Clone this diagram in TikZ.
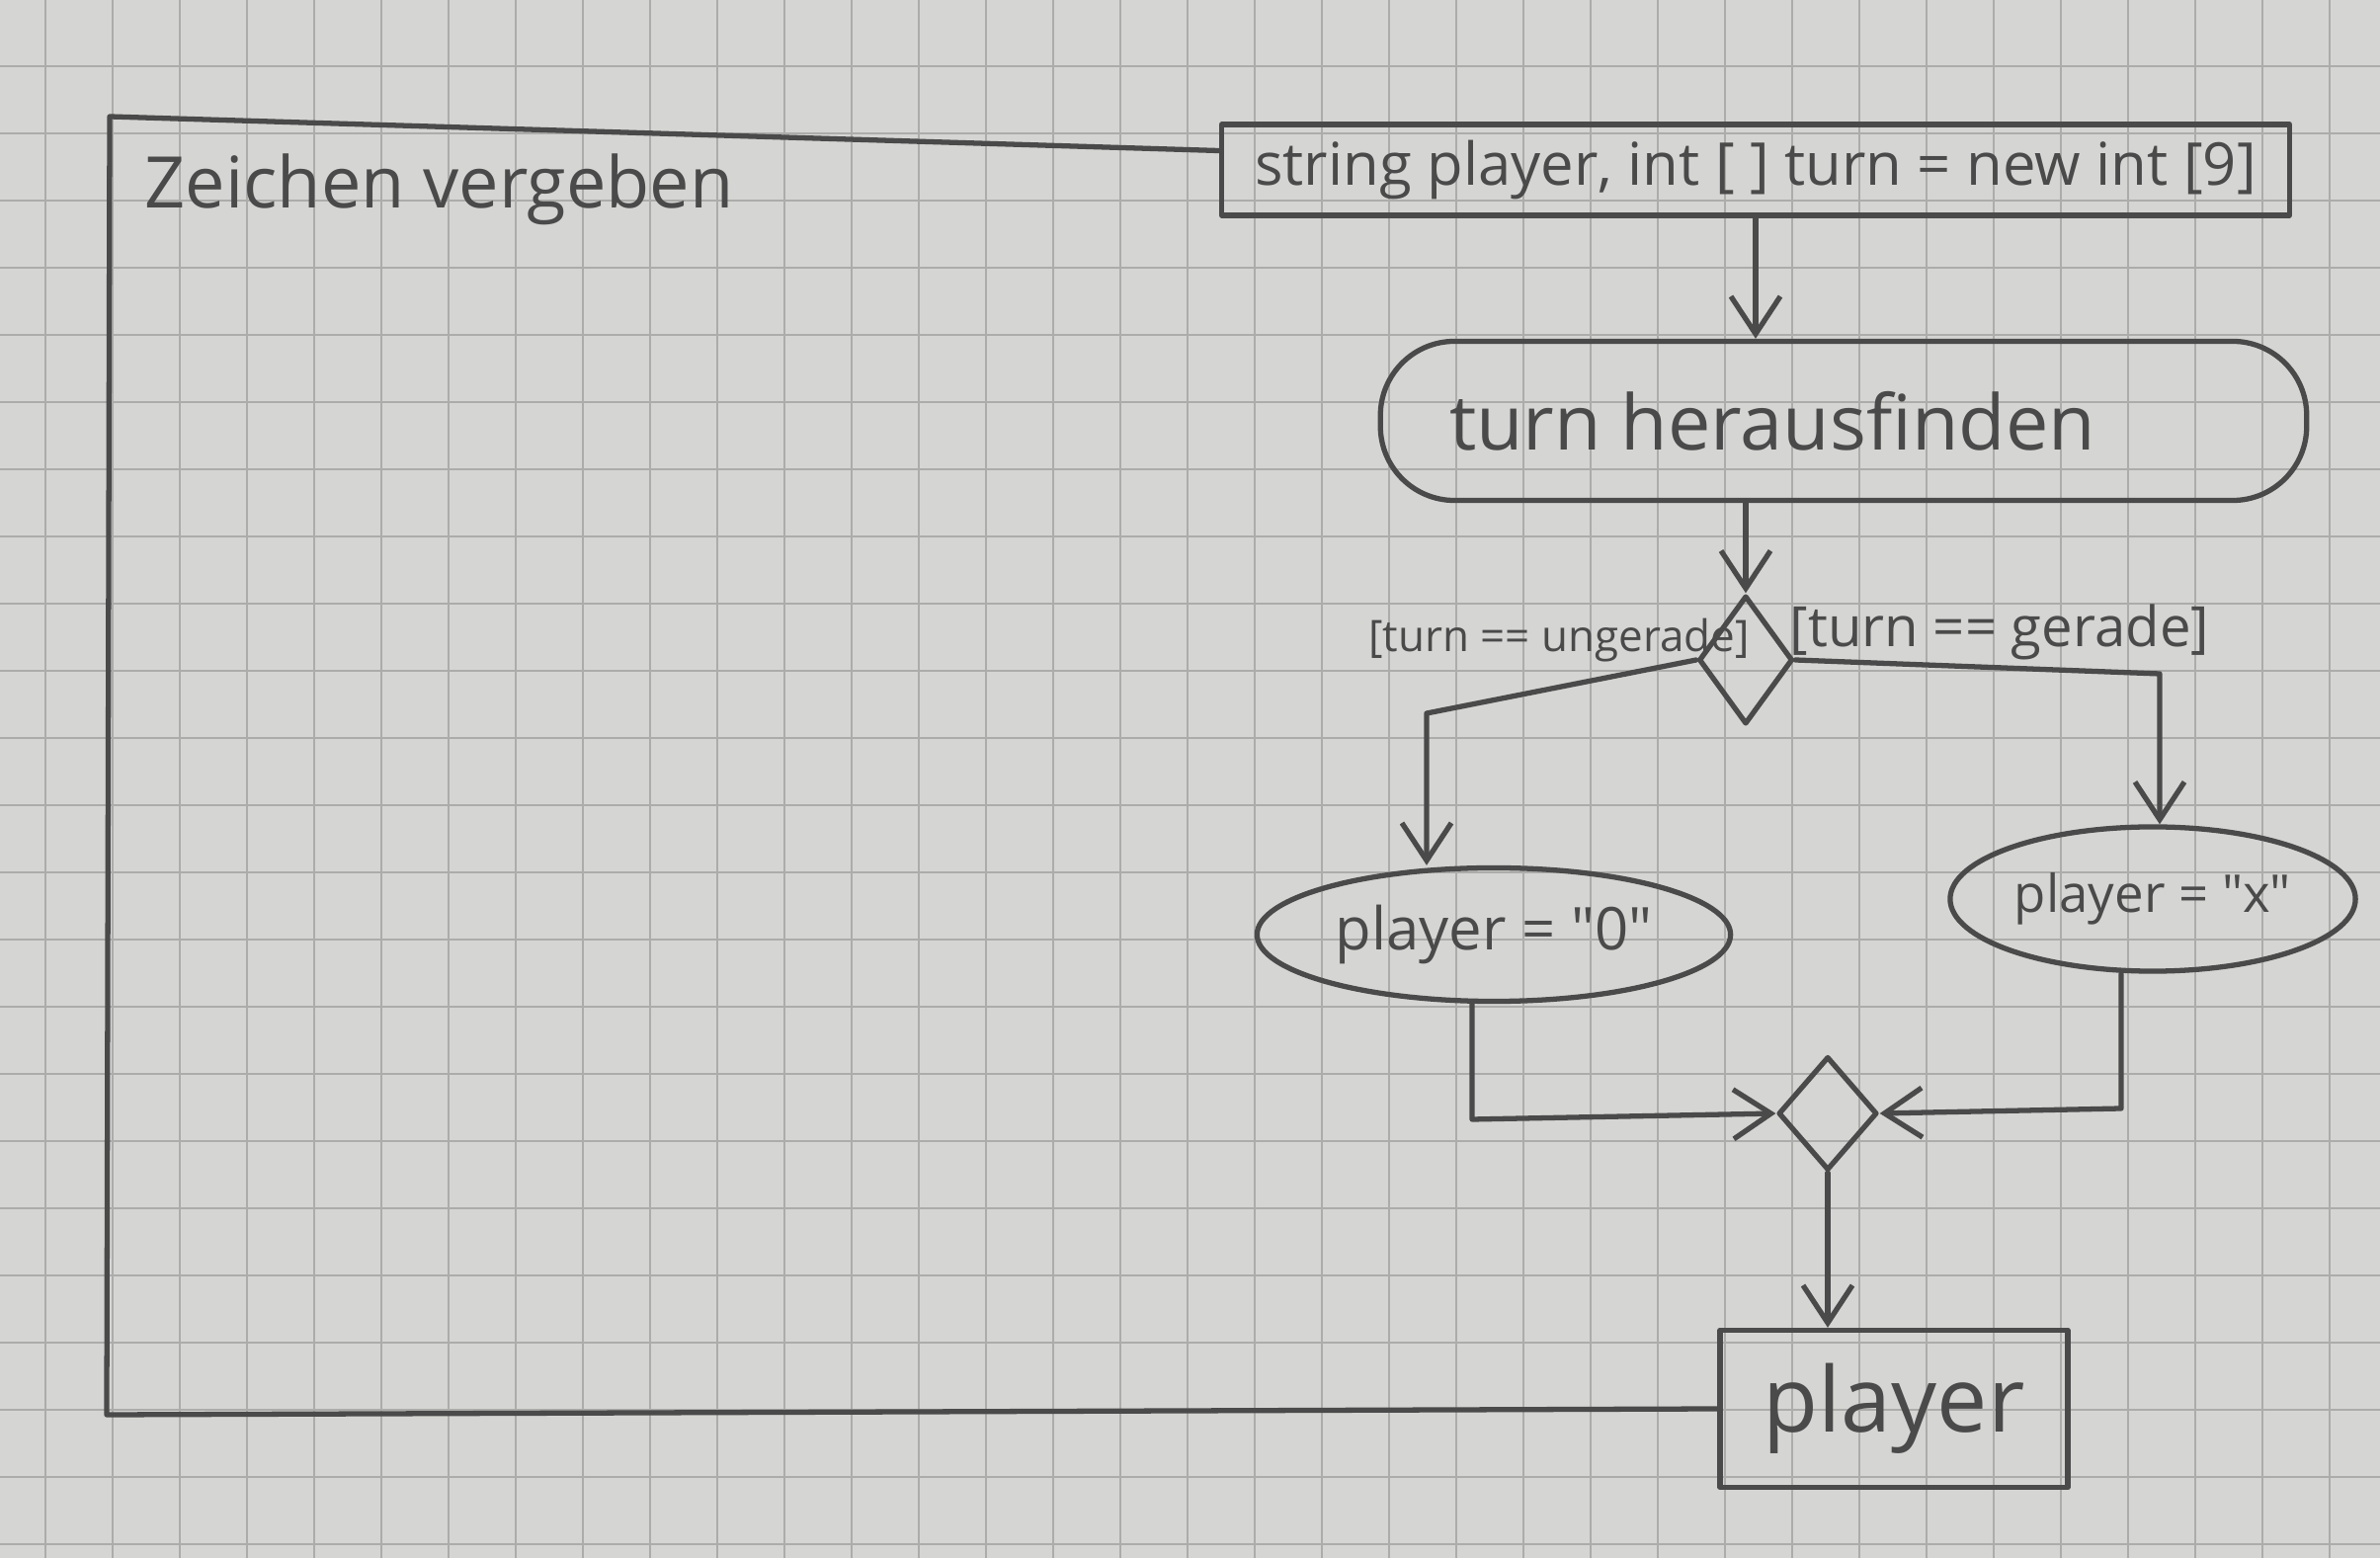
\documentclass[tikz,border=0pt]{standalone}
\usepackage{fontspec}
\setmainfont{Open Sans}
\usetikzlibrary{shapes.geometric,arrows.meta,calc}
\definecolor{paper}{RGB}{213,213,211}
\definecolor{gridc}{RGB}{172,172,170}
\definecolor{pencil}{RGB}{74,74,74}
\font\qfa="Open Sans" at 17pt
\font\qfb="Open Sans" at 15pt
\begin{document}
\begin{tikzpicture}[x=0.01cm,y=-0.01cm,
 pen/.style={draw=pencil, line width=1.5pt, line join=round, line cap=round},
 objbox/.style={pen, rectangle, inner sep=0pt, text=pencil},
 actbox/.style={pen, rectangle, rounded corners=0.75cm, inner sep=0pt, text=pencil},
 ellnode/.style={pen, ellipse, inner sep=0pt, text=pencil},
 gate/.style={pen, diamond, inner sep=0pt, minimum width=0.95cm, minimum height=1.3cm},
 flow/.style={pen, -{Straight Barb[length=0.38cm,width=0.5cm]}},
 guard/.style={text=pencil, inner sep=0pt},
 gridline/.style={draw=gridc, line width=0.55pt}]
\useasboundingbox (0,0) rectangle (2409,1577);
\fill[paper] (0,0) rectangle (2409,1577);
\foreach \i in {0,...,35} \draw[gridline] ({46+68*\i},0) -- ({46+68*\i},1577);
\foreach \j in {0,...,23} \draw[gridline] (0,{67+68*\j}) -- (2409,{67+68*\j});

\node[guard, anchor=west, font=\fontsize{20.5}{24}\selectfont] (title) at (146,192) {Zeichen vergeben};
\node[objbox, minimum width=10.8cm, minimum height=0.92cm, font=\fontsize{17}{20}\selectfont] (in) at (1777,172) {string player, int [ ] turn = new int [9]};
\node[actbox, minimum width=9.37cm, minimum height=1.61cm, font=\fontsize{22}{26}\selectfont] (act) at (1866,426) {turn herausfinden\kern1.44cm};
\node[gate] (dec) at (1767,668) {};
\node[ellnode, minimum width=4.79cm, minimum height=1.35cm, font=\qfa] (e0) at (1512,946) {player = "0"};
\node[ellnode, minimum width=4.1cm, minimum height=1.46cm, font=\qfb] (ex) at (2179,910) {player = "x"};
\node[gate, minimum width=1.0cm, minimum height=1.15cm] (mrg) at (1850,1127) {};
\node[objbox, minimum width=3.52cm, minimum height=1.59cm, font=\fontsize{26}{30}\selectfont] (out) at (1917,1426) {player};
\node[guard, font=\fontsize{12.5}{15}\selectfont] (gl) at (1578,648) {[turn == ungerade]};
\node[guard, font=\fontsize{16}{19}\selectfont] (gr) at (2024,640) {[turn == gerade]};

\coordinate (tl) at (111,118);
\coordinate (bl) at (108,1432);
\coordinate (cl) at (1444,722);
\coordinate (cr) at (2186,682);
\coordinate (ml) at (1490,1133);
\coordinate (mr) at (2147,1122);

\draw[pen] ($(in.north west)!0.3!(in.south west)$) -- (tl) -- (bl) -- (out.west);
\draw[flow] (in.south) -- (in.south |- act.north);
\draw[flow] (dec.north |- act.south) -- (dec.north);
\draw[flow] (dec.west) -- (cl) -- (cl |- e0.north);
\draw[flow] (dec.east) -- (cr) -- (cr |- ex.north);
\draw[flow] (ml |- e0.south) -- (ml) -- (mrg.west);
\draw[flow] (mr |- ex.south) -- (mr) -- (mrg.east);
\draw[flow] (mrg.south) -- (mrg.south |- out.north);
\end{tikzpicture}
\end{document}
